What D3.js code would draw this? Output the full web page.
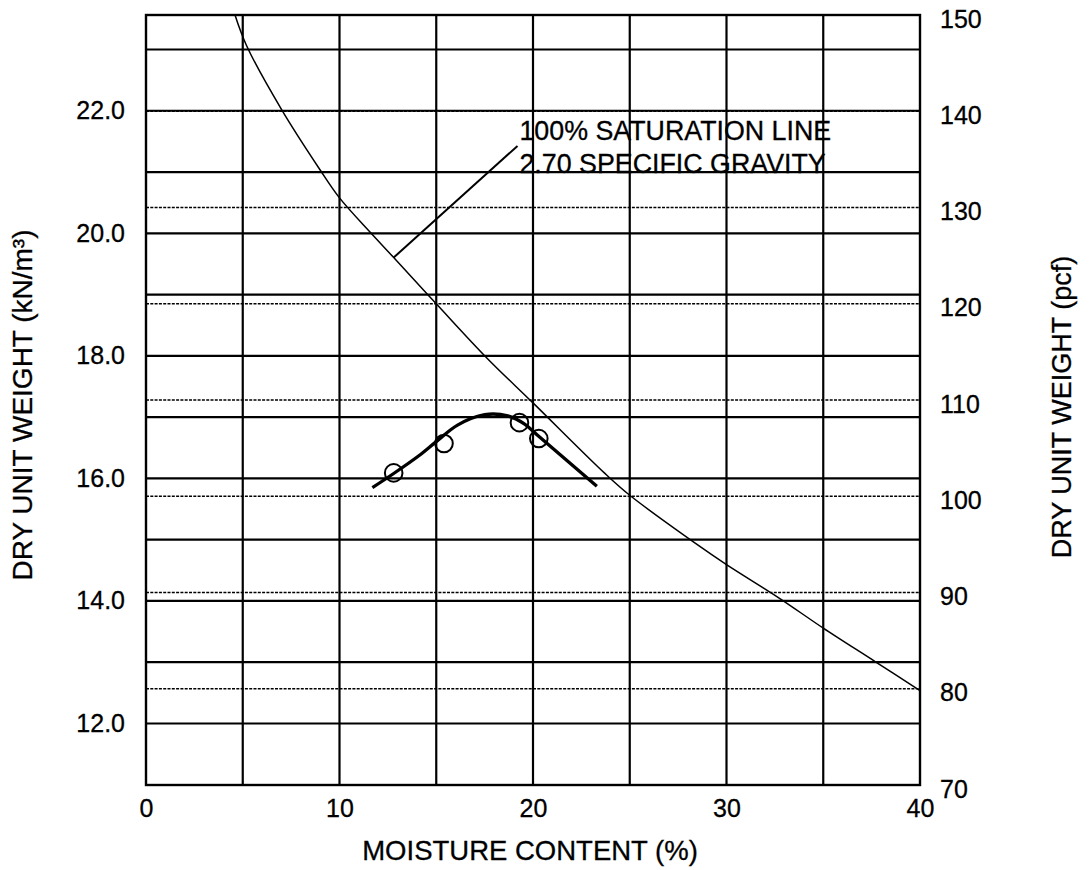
<!DOCTYPE html>
<html>
<head>
<meta charset="utf-8">
<script src="https://cdn.jsdelivr.net/npm/d3@7"></script>
<style>
  html, body { margin: 0; padding: 0; background: #fff; }
  svg { display: block; }
  text { font-family: "Liberation Sans", Arial, Helvetica, sans-serif; fill: #000; stroke: #000; stroke-width: 0.3; }
</style>
</head>
<body>
<svg id="chart" width="1090" height="870"></svg>
<script>
// ---- Data -------------------------------------------------------------
// Compaction test results: moisture content (%) and dry unit weight (kN/m³)
const testMoisture = [12.8, 15.4, 19.3, 20.3];
const testDryUnitWeight = [16.09, 16.57, 16.91, 16.65];

// Fitted compaction curve (moisture %, kN/m³)
const curveMoisture = [11.7, 12.8, 14.1, 15.0, 16.1, 17.5, 18.7, 19.55, 20.25, 23.3];
const curveDryUnitWeight = [15.85, 16.08, 16.37, 16.6, 16.87, 17.04, 17.02, 16.89, 16.7, 15.87];

// Zero-air-voids (100% saturation) line, Gs = 2.70 (moisture %, pcf)
const satMoisture = [4.6, 5.2, 7.0, 9.0, 10, 11.6, 12.8, 15, 17.6, 20, 23.7, 25, 28.4, 30, 32.7, 35, 37.7, 40];
const satPcf = [150, 146.8, 140.2, 133.9, 131, 127.4, 124.8, 120, 114.4, 109.7, 102.4, 100.1, 95.1, 92.9, 89.45, 86.3, 82.8, 79.8];

// Axis ticks and grid
const moistureTicks = [0, 10, 20, 30, 40];
const moistureGrid = [5, 10, 15, 20, 25, 30, 35];
const knTicks = [12, 14, 16, 18, 20, 22];
const knGrid = [12, 13, 14, 15, 16, 17, 18, 19, 20, 21, 22, 23];
const pcfTicks = [70, 80, 90, 100, 110, 120, 130, 140, 150];
const pcfGrid = [80, 90, 100, 110, 120, 130, 140];

// Annotation text and leader (moisture %, pcf)
const noteLines = ["100% SATURATION LINE", "2.70 SPECIFIC GRAVITY"];
const noteAnchor = [19.3, 137.0];
const leaderFrom = [12.8, 124.8];
const leaderTo = [19.2, 136.4];

// ---- Scales -----------------------------------------------------------
const PCF_TO_KN = 0.157087;
const plotLeft = 146, plotRight = 920, plotTop = 15, plotBottom = 785;

const x = d3.scaleLinear().domain([0, 40]).range([plotLeft, plotRight]);
const yPcf = d3.scaleLinear().domain([70, 150]).range([plotBottom, plotTop]);
const yKn = d3.scaleLinear().domain([70 * PCF_TO_KN, 150 * PCF_TO_KN]).range([plotBottom, plotTop]);

const svg = d3.select("#chart");
svg.append("rect").attr("width", 1090).attr("height", 870).attr("fill", "#fff");

// ---- Annotation text (grid lines are drawn over it) --------------------
const note = svg.append("text")
  .attr("x", x(noteAnchor[0]))
  .attr("y", yPcf(noteAnchor[1]))
  .attr("font-size", 26.8);
noteLines.forEach((t, i) => {
  note.append("tspan").attr("x", x(noteAnchor[0])).attr("dy", i === 0 ? 0 : 32.5).text(t);
});

// ---- Grid -------------------------------------------------------------
const grid = svg.append("g");

// dotted pcf lines
grid.selectAll("line.pcf").data(pcfGrid).join("line")
  .attr("class", "pcf")
  .attr("x1", plotLeft).attr("x2", plotRight)
  .attr("y1", d => yPcf(d)).attr("y2", d => yPcf(d))
  .attr("stroke", "#000").attr("stroke-width", 1.5)
  .attr("stroke-dasharray", "3,1.3");

// solid kN/m³ lines
grid.selectAll("line.kn").data(knGrid).join("line")
  .attr("class", "kn")
  .attr("x1", plotLeft).attr("x2", plotRight)
  .attr("y1", d => yKn(d)).attr("y2", d => yKn(d))
  .attr("stroke", "#000").attr("stroke-width", 2.2);

// moisture lines
grid.selectAll("line.w").data(moistureGrid).join("line")
  .attr("class", "w")
  .attr("x1", d => x(d)).attr("x2", d => x(d))
  .attr("y1", plotTop).attr("y2", plotBottom)
  .attr("stroke", "#000").attr("stroke-width", 2.2);

// frame
grid.append("rect")
  .attr("x", plotLeft).attr("y", plotTop)
  .attr("width", plotRight - plotLeft).attr("height", plotBottom - plotTop)
  .attr("fill", "none").attr("stroke", "#000").attr("stroke-width", 2.4);

// ---- Axes -------------------------------------------------------------
const axisFont = 25;

const gLeft = svg.append("g").attr("transform", `translate(${plotLeft},0)`)
  .call(d3.axisLeft(yKn).tickValues(knTicks).tickSize(0).tickPadding(21).tickFormat(d3.format(".1f")));
gLeft.select(".domain").remove();
gLeft.selectAll("text").attr("font-size", axisFont).attr("font-family", null);

const gRight = svg.append("g").attr("transform", `translate(${plotRight},0)`)
  .call(d3.axisRight(yPcf).tickValues(pcfTicks).tickSize(0).tickPadding(20).tickFormat(d3.format("d")));
gRight.select(".domain").remove();
gRight.selectAll("text").attr("font-size", axisFont).attr("font-family", null)
  .attr("dy", "0.48em");

const gBottom = svg.append("g").attr("transform", `translate(0,${plotBottom})`)
  .call(d3.axisBottom(x).tickValues(moistureTicks).tickSize(0).tickPadding(14).tickFormat(d3.format("d")));
gBottom.select(".domain").remove();
gBottom.selectAll("text").attr("font-size", axisFont).attr("font-family", null);

// axis titles
svg.append("text")
  .attr("x", 530).attr("y", 860)
  .attr("text-anchor", "middle").attr("font-size", 27.5)
  .text("MOISTURE CONTENT (%)");

svg.append("text")
  .attr("transform", "translate(32,405) rotate(-90)")
  .attr("text-anchor", "middle").attr("font-size", 28)
  .text("DRY UNIT WEIGHT (kN/m³)");

svg.append("text")
  .attr("transform", "translate(1071,407) rotate(-90)")
  .attr("text-anchor", "middle").attr("font-size", 27)
  .text("DRY UNIT WEIGHT (pcf)");

// ---- Curves -----------------------------------------------------------
const satLine = d3.line()
  .x((d, i) => x(satMoisture[i]))
  .y((d, i) => yPcf(satPcf[i]))
  .curve(d3.curveCatmullRom.alpha(0.5));
svg.append("path").datum(satMoisture)
  .attr("d", satLine)
  .attr("fill", "none").attr("stroke", "#000").attr("stroke-width", 1.5);

// leader from the label to the saturation line
svg.append("line")
  .attr("x1", x(leaderFrom[0])).attr("y1", yPcf(leaderFrom[1]))
  .attr("x2", x(leaderTo[0])).attr("y2", yPcf(leaderTo[1]))
  .attr("stroke", "#000").attr("stroke-width", 2);

const compLine = d3.line()
  .x((d, i) => x(curveMoisture[i]))
  .y((d, i) => yKn(curveDryUnitWeight[i]))
  .curve(d3.curveCatmullRom.alpha(0.5));
svg.append("path").datum(curveMoisture)
  .attr("d", compLine)
  .attr("fill", "none").attr("stroke", "#000").attr("stroke-width", 3.3)
  .attr("stroke-linecap", "butt");

svg.selectAll("circle.pt").data(testMoisture).join("circle")
  .attr("class", "pt")
  .attr("cx", (d, i) => x(testMoisture[i]))
  .attr("cy", (d, i) => yKn(testDryUnitWeight[i]))
  .attr("r", 8.8)
  .attr("fill", "none").attr("stroke", "#000").attr("stroke-width", 2);
</script>
</body>
</html>
